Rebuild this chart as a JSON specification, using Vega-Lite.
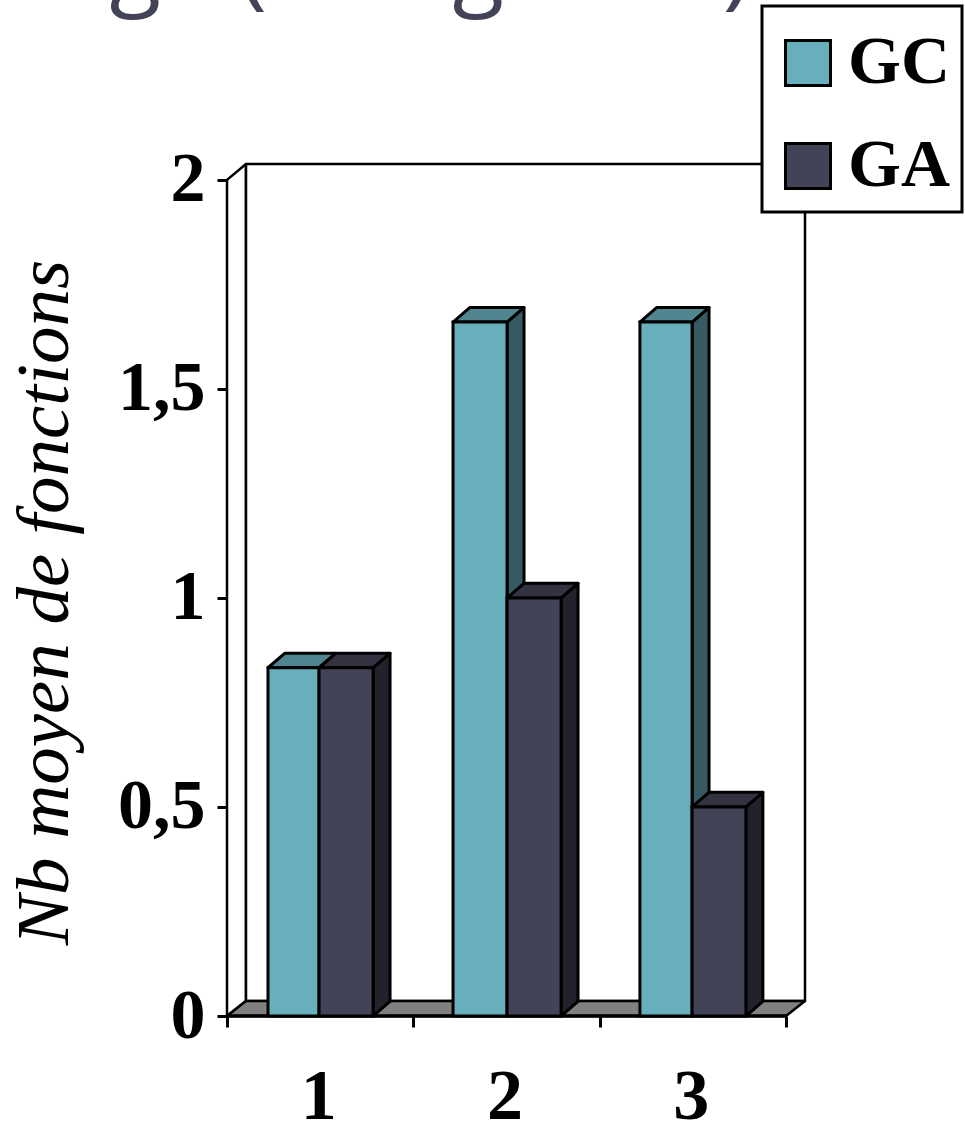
{
"$schema":"https://vega.github.io/schema/vega-lite/v6.json",
"autosize":"none","width":578,"height":852,
"padding":{"left":227,"top":164,"right":160,"bottom":105},
"background":"white",
"config":{"view":{"stroke":null},"legend":{"strokeWidth":3}},
"datasets":{
"barres":[
{"categorie":"1","serie":"GC","debut":0.22,"fin":0.494,"valeur":0.833},
{"categorie":"1","serie":"GA","debut":0.494,"fin":0.784,"valeur":0.833},
{"categorie":"2","serie":"GC","debut":1.213,"fin":1.503,"valeur":1.66},
{"categorie":"2","serie":"GA","debut":1.503,"fin":1.793,"valeur":1.0},
{"categorie":"3","serie":"GC","debut":2.216,"fin":2.496,"valeur":1.66},
{"categorie":"3","serie":"GA","debut":2.496,"fin":2.785,"valeur":0.5}
],
"fond":[
{"id":"mur","face":"Mur","px":0,"py":0,"o":1},{"id":"mur","face":"Mur","px":0.102,"py":0.036,"o":2},{"id":"mur","face":"Mur","px":0.102,"py":2.038,"o":3},{"id":"mur","face":"Mur","px":0,"py":2,"o":4},
{"id":"fondm","face":"Mur","px":0.102,"py":0.036,"o":1},{"id":"fondm","face":"Mur","px":3.102,"py":0.036,"o":2},{"id":"fondm","face":"Mur","px":3.102,"py":2.038,"o":3},{"id":"fondm","face":"Mur","px":0.102,"py":2.038,"o":4},
{"id":"sol","face":"Sol","px":0,"py":0,"o":1},{"id":"sol","face":"Sol","px":0.102,"py":0.036,"o":2},{"id":"sol","face":"Sol","px":3.102,"py":0.036,"o":3},{"id":"sol","face":"Sol","px":3,"py":0,"o":4}
],
"faces":[
{"id":"c1t","s":"GC","face":"GC dessus","px":0.22,"py":0.833,"o":1},{"id":"c1t","s":"GC","face":"GC dessus","px":0.311,"py":0.868,"o":2},{"id":"c1t","s":"GC","face":"GC dessus","px":0.585,"py":0.868,"o":3},{"id":"c1t","s":"GC","face":"GC dessus","px":0.494,"py":0.833,"o":4},
{"id":"c2s","s":"GC","face":"GC côté","px":1.503,"py":0,"o":1},{"id":"c2s","s":"GC","face":"GC côté","px":1.594,"py":0.035,"o":2},{"id":"c2s","s":"GC","face":"GC côté","px":1.594,"py":1.695,"o":3},{"id":"c2s","s":"GC","face":"GC côté","px":1.503,"py":1.66,"o":4},
{"id":"c2t","s":"GC","face":"GC dessus","px":1.213,"py":1.66,"o":1},{"id":"c2t","s":"GC","face":"GC dessus","px":1.304,"py":1.695,"o":2},{"id":"c2t","s":"GC","face":"GC dessus","px":1.594,"py":1.695,"o":3},{"id":"c2t","s":"GC","face":"GC dessus","px":1.503,"py":1.66,"o":4},
{"id":"c3s","s":"GC","face":"GC côté","px":2.496,"py":0,"o":1},{"id":"c3s","s":"GC","face":"GC côté","px":2.587,"py":0.035,"o":2},{"id":"c3s","s":"GC","face":"GC côté","px":2.587,"py":1.695,"o":3},{"id":"c3s","s":"GC","face":"GC côté","px":2.496,"py":1.66,"o":4},
{"id":"c3t","s":"GC","face":"GC dessus","px":2.216,"py":1.66,"o":1},{"id":"c3t","s":"GC","face":"GC dessus","px":2.307,"py":1.695,"o":2},{"id":"c3t","s":"GC","face":"GC dessus","px":2.587,"py":1.695,"o":3},{"id":"c3t","s":"GC","face":"GC dessus","px":2.496,"py":1.66,"o":4},
{"id":"a1s","s":"GA","face":"GA côté","px":0.784,"py":0,"o":1},{"id":"a1s","s":"GA","face":"GA côté","px":0.875,"py":0.035,"o":2},{"id":"a1s","s":"GA","face":"GA côté","px":0.875,"py":0.868,"o":3},{"id":"a1s","s":"GA","face":"GA côté","px":0.784,"py":0.833,"o":4},
{"id":"a1t","s":"GA","face":"GA dessus","px":0.494,"py":0.833,"o":1},{"id":"a1t","s":"GA","face":"GA dessus","px":0.585,"py":0.868,"o":2},{"id":"a1t","s":"GA","face":"GA dessus","px":0.875,"py":0.868,"o":3},{"id":"a1t","s":"GA","face":"GA dessus","px":0.784,"py":0.833,"o":4},
{"id":"a2s","s":"GA","face":"GA côté","px":1.793,"py":0,"o":1},{"id":"a2s","s":"GA","face":"GA côté","px":1.884,"py":0.035,"o":2},{"id":"a2s","s":"GA","face":"GA côté","px":1.884,"py":1.035,"o":3},{"id":"a2s","s":"GA","face":"GA côté","px":1.793,"py":1.0,"o":4},
{"id":"a2t","s":"GA","face":"GA dessus","px":1.503,"py":1.0,"o":1},{"id":"a2t","s":"GA","face":"GA dessus","px":1.594,"py":1.035,"o":2},{"id":"a2t","s":"GA","face":"GA dessus","px":1.884,"py":1.035,"o":3},{"id":"a2t","s":"GA","face":"GA dessus","px":1.793,"py":1.0,"o":4},
{"id":"a3s","s":"GA","face":"GA côté","px":2.785,"py":0,"o":1},{"id":"a3s","s":"GA","face":"GA côté","px":2.876,"py":0.035,"o":2},{"id":"a3s","s":"GA","face":"GA côté","px":2.876,"py":0.535,"o":3},{"id":"a3s","s":"GA","face":"GA côté","px":2.785,"py":0.5,"o":4},
{"id":"a3t","s":"GA","face":"GA dessus","px":2.496,"py":0.5,"o":1},{"id":"a3t","s":"GA","face":"GA dessus","px":2.587,"py":0.535,"o":2},{"id":"a3t","s":"GA","face":"GA dessus","px":2.876,"py":0.535,"o":3},{"id":"a3t","s":"GA","face":"GA dessus","px":2.785,"py":0.5,"o":4}
]
},
"resolve":{"scale":{"fill":"shared"}},
"layer":[
{"data":{"name":"fond"},
 "mark":{"type":"line","interpolate":"linear-closed","stroke":"black","strokeWidth":2.5,"strokeJoin":"round","clip":false},
 "encoding":{
  "x":{"field":"px","type":"quantitative","scale":{"domain":[0,3.102],"nice":false,"zero":false},
    "axis":{"title":null,"domain":false,"grid":false,"values":[0,0.5,1,1.5,2,2.5,3],"tickSize":11,"tickWidth":3,"tickColor":"black",
      "tickOpacity":{"condition":{"test":"datum.value % 1 == 0","value":1},"value":0},
      "labelExpr":"datum.value % 1 == 0 ? '' : '' + ceil(datum.value)",
      "labelFont":"Liberation Serif","labelFontWeight":"bold","labelFontSize":72,"labelColor":"black","labelBaseline":"alphabetic","labelPadding":91,"labelOffset":-2,"labelFlush":false,"labelOverlap":false,"labelBound":false}},
  "y":{"field":"py","type":"quantitative","scale":{"domain":[0,2.038],"nice":false,"zero":false},
    "axis":{"domain":false,"grid":false,"values":[0,0.5,1,1.5,2],"tickSize":10,"tickWidth":3,"tickColor":"black",
      "labelExpr":"replace(format(datum.value,'~r'),'.',',')",
      "labelFont":"Liberation Serif","labelFontWeight":"bold","labelFontSize":70,"labelColor":"black","labelPadding":12,"labelOverlap":false,"labelBound":false,"labelFlush":false,
      "title":"Nb moyen de fonctions","titleFont":"Liberation Serif","titleFontStyle":"italic","titleFontWeight":"normal","titleFontSize":75,"titleColor":"black","titleAngle":270,"titleBaseline":"alphabetic","titleAlign":"center","titleX":-160,"titleY":438}},
  "detail":{"field":"id"},
  "order":{"field":"o","type":"quantitative"},
  "fill":{"field":"face","type":"nominal"}
 }},
{"data":{"values":[{"debut":0,"fin":3,"y":0}]},
 "mark":{"type":"rule","stroke":"black","strokeWidth":3.5},
 "encoding":{"x":{"field":"debut","type":"quantitative"},"x2":{"field":"fin"},"y":{"field":"y","type":"quantitative"}}},
{"data":{"name":"faces"},"transform":[{"filter":"datum.s == 'GC'"}],
 "mark":{"type":"line","interpolate":"linear-closed","stroke":"black","strokeWidth":3,"strokeJoin":"round"},
 "encoding":{"x":{"field":"px","type":"quantitative"},"y":{"field":"py","type":"quantitative"},"detail":{"field":"id"},"order":{"field":"o","type":"quantitative"},"fill":{"field":"face","type":"nominal"}}},
{"data":{"name":"barres"},"transform":[{"filter":"datum.serie == 'GC'"}],
 "mark":{"type":"rect","stroke":"black","strokeWidth":3},
 "encoding":{"x":{"field":"debut","type":"quantitative"},"x2":{"field":"fin"},"y":{"field":"valeur","type":"quantitative"},"y2":{"datum":0},"fill":{"field":"serie","type":"nominal"}}},
{"data":{"name":"faces"},"transform":[{"filter":"datum.s == 'GA'"}],
 "mark":{"type":"line","interpolate":"linear-closed","stroke":"black","strokeWidth":3,"strokeJoin":"round"},
 "encoding":{"x":{"field":"px","type":"quantitative"},"y":{"field":"py","type":"quantitative"},"detail":{"field":"id"},"order":{"field":"o","type":"quantitative"},"fill":{"field":"face","type":"nominal"}}},
{"data":{"name":"barres"},"transform":[{"filter":"datum.serie == 'GA'"}],
 "mark":{"type":"rect","stroke":"black","strokeWidth":3},
 "encoding":{"x":{"field":"debut","type":"quantitative"},"x2":{"field":"fin"},"y":{"field":"valeur","type":"quantitative"},"y2":{"datum":0},
  "fill":{"field":"serie","type":"nominal",
   "scale":{"domain":["GC","GA","GC dessus","GC côté","GA dessus","GA côté","Mur","Sol"],"range":["#68AFBE","#434357","#518691","#365A62","#323241","#22222C","#FFFFFF","#808080"]},
   "legend":{"values":["GC","GA"],"title":" ","titleFontSize":1,"titlePadding":10,"orient":"none","legendX":535,"legendY":-158,"fillColor":"white","strokeColor":"black","padding":12,"symbolType":"square","symbolSize":2025,"symbolStrokeColor":"black","symbolStrokeWidth":3,"symbolOpacity":1,"labelFont":"Liberation Serif","labelFontWeight":"bold","labelFontSize":68,"labelColor":"black","labelOffset":6,"labelLimit":200,"rowPadding":35}}}},
{"data":{"values":[{"x":-1.47,"y":2.4375,"t":"usage (catégories)"}]},
 "mark":{"type":"text","font":"Open Sans","fontSize":95,"color":"#434357","align":"left","baseline":"alphabetic","clip":false},
 "encoding":{"x":{"field":"x","type":"quantitative"},"y":{"field":"y","type":"quantitative"},"text":{"field":"t"}}}
]
}
